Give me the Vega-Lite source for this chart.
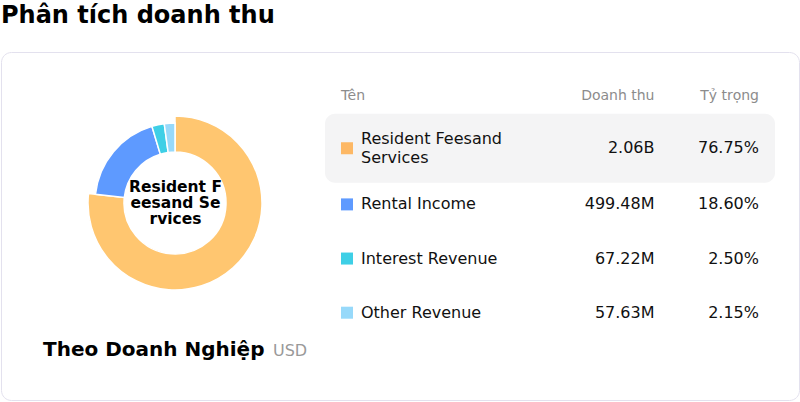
{
  "$schema": "https://vega.github.io/schema/vega-lite/v6.json",
  "width": 798,
  "height": 348,
  "autosize": {"type": "none"},
  "padding": {"left": 1, "top": 52, "right": 1, "bottom": 2},
  "background": "white",
  "title": {"text": "Phân tích doanh thu", "anchor": "start", "frame": "group", "font": "DejaVu Sans", "fontSize": 24, "fontWeight": "bold", "color": "#000000", "offset": 24},
  "config": {
    "view": {"stroke": "#e3e1ee", "strokeWidth": 1, "cornerRadius": 10},
    "font": "DejaVu Sans",
    "text": {"font": "DejaVu Sans"}
  },
  "datasets": {
    "revenue": [
      {"name": "Resident Feesand Services", "value": 2061000000},
      {"name": "Rental Income", "value": 499480000},
      {"name": "Interest Revenue", "value": 67220000},
      {"name": "Other Revenue", "value": 57630000}
    ]
  },
  "layer": [
    {
      "data": {"name": "revenue"},
      "transform": [{"filter": "datum.name === 'Resident Feesand Services'"}],
      "mark": {"type": "rect", "fill": "#f4f4f5", "cornerRadius": 10, "height": 69, "x": 324, "x2": 774, "yOffset": -2},
      "encoding": {
        "y": {"field": "name", "type": "nominal", "axis": null, "scale": {"type": "point", "domain": ["header", "Resident Feesand Services", "Rental Income", "Interest Revenue", "Other Revenue"], "range": [44.1, 260.7], "padding": 0}}
      }
    },
    {
      "data": {"name": "revenue"},
      "mark": {"type": "arc", "x": 174, "y": 151, "innerRadius": 51, "outerRadius": {"expr": "datum.name === 'Resident Feesand Services' ? 87 : 80"}, "stroke": "#ffffff", "strokeWidth": 1.5},
      "encoding": {
        "theta": {"field": "value", "type": "quantitative", "stack": true},
        "order": {"field": "value", "sort": "descending"},
        "color": {
          "condition": {"test": "datum.name === 'Resident Feesand Services'", "value": "#FFC670"},
          "field": "name", "type": "nominal", "legend": null,
          "scale": {"domain": ["Resident Feesand Services", "Rental Income", "Interest Revenue", "Other Revenue"], "range": ["#FDB865", "#5E9AFF", "#3ECFE6", "#97D9FA"]}
        }
      }
    },
    {
      "data": {"name": "revenue"},
      "transform": [{"filter": "datum.name === 'Resident Feesand Services'"}],
      "mark": {"type": "text", "x": 174.5, "y": 134.5, "align": "center", "baseline": "middle", "fontSize": 15.5, "fontWeight": "bold", "lineHeight": 16, "color": "#000000"},
      "encoding": {"text": {"value": ["Resident F", "eesand Se", "rvices"]}}
    },
    {
      "data": {"name": "revenue"},
      "mark": {"type": "point", "shape": "square", "filled": true, "size": 144, "x": 346, "opacity": 1, "yOffset": {"expr": "datum.name === 'Resident Feesand Services' ? -2 : 0"}},
      "encoding": {
        "y": {"field": "name", "type": "nominal"},
        "color": {"field": "name", "type": "nominal", "legend": null}
      }
    },
    {
      "data": {"name": "revenue"},
      "transform": [{"calculate": "datum.name === 'Resident Feesand Services' ? ['Resident Feesand', 'Services'] : datum.name", "as": "label"}],
      "mark": {"type": "text", "x": 360, "align": "left", "baseline": "middle", "fontSize": 16, "lineHeight": 19, "color": "#111111", "dy": {"expr": "datum.name === 'Resident Feesand Services' ? -11.5 : 0"}},
      "encoding": {
        "y": {"field": "name", "type": "nominal"},
        "text": {"field": "label"}
      }
    },
    {
      "data": {"name": "revenue"},
      "transform": [{"calculate": "datum.value >= 1e9 ? format(datum.value / 1e9, '.2f') + 'B' : format(datum.value / 1e6, '.2f') + 'M'", "as": "valueLabel"}],
      "mark": {"type": "text", "x": 653.5, "align": "right", "baseline": "middle", "fontSize": 16, "color": "#111111", "dy": {"expr": "datum.name === 'Resident Feesand Services' ? -2 : 0"}},
      "encoding": {
        "y": {"field": "name", "type": "nominal"},
        "text": {"field": "valueLabel"}
      }
    },
    {
      "data": {"name": "revenue"},
      "transform": [
        {"joinaggregate": [{"op": "sum", "field": "value", "as": "total"}]},
        {"calculate": "datum.value / datum.total", "as": "share"}
      ],
      "mark": {"type": "text", "x": 758, "align": "right", "baseline": "middle", "fontSize": 16, "color": "#111111", "dy": {"expr": "datum.name === 'Resident Feesand Services' ? -2 : 0"}},
      "encoding": {
        "y": {"field": "name", "type": "nominal"},
        "text": {"field": "share", "type": "quantitative", "format": ".2%"}
      }
    },
    {
      "data": {"values": [{"header": "Tên"}]},
      "mark": {"type": "text", "x": 340, "align": "left", "baseline": "middle", "fontSize": 14, "color": "#8c8c8c"},
      "encoding": {"y": {"datum": "header"}, "text": {"field": "header"}}
    },
    {
      "data": {"values": [{"header": "Doanh thu"}]},
      "mark": {"type": "text", "x": 653.5, "align": "right", "baseline": "middle", "fontSize": 14, "color": "#8c8c8c"},
      "encoding": {"y": {"datum": "header"}, "text": {"field": "header"}}
    },
    {
      "data": {"values": [{"header": "Tỷ trọng"}]},
      "mark": {"type": "text", "x": 758, "align": "right", "baseline": "middle", "fontSize": 14, "color": "#8c8c8c"},
      "encoding": {"y": {"datum": "header"}, "text": {"field": "header"}}
    },
    {
      "data": {"values": [{"label": "Theo Doanh Nghiệp"}]},
      "mark": {"type": "text", "x": 42, "y": 303.5, "align": "left", "baseline": "alphabetic", "fontSize": 20, "fontWeight": "bold", "color": "#000000"},
      "encoding": {"text": {"field": "label"}}
    },
    {
      "data": {"values": [{"label": "USD"}]},
      "mark": {"type": "text", "x": 272, "y": 303.5, "align": "left", "baseline": "alphabetic", "fontSize": 16, "color": "#999999"},
      "encoding": {"text": {"field": "label"}}
    }
  ]
}
